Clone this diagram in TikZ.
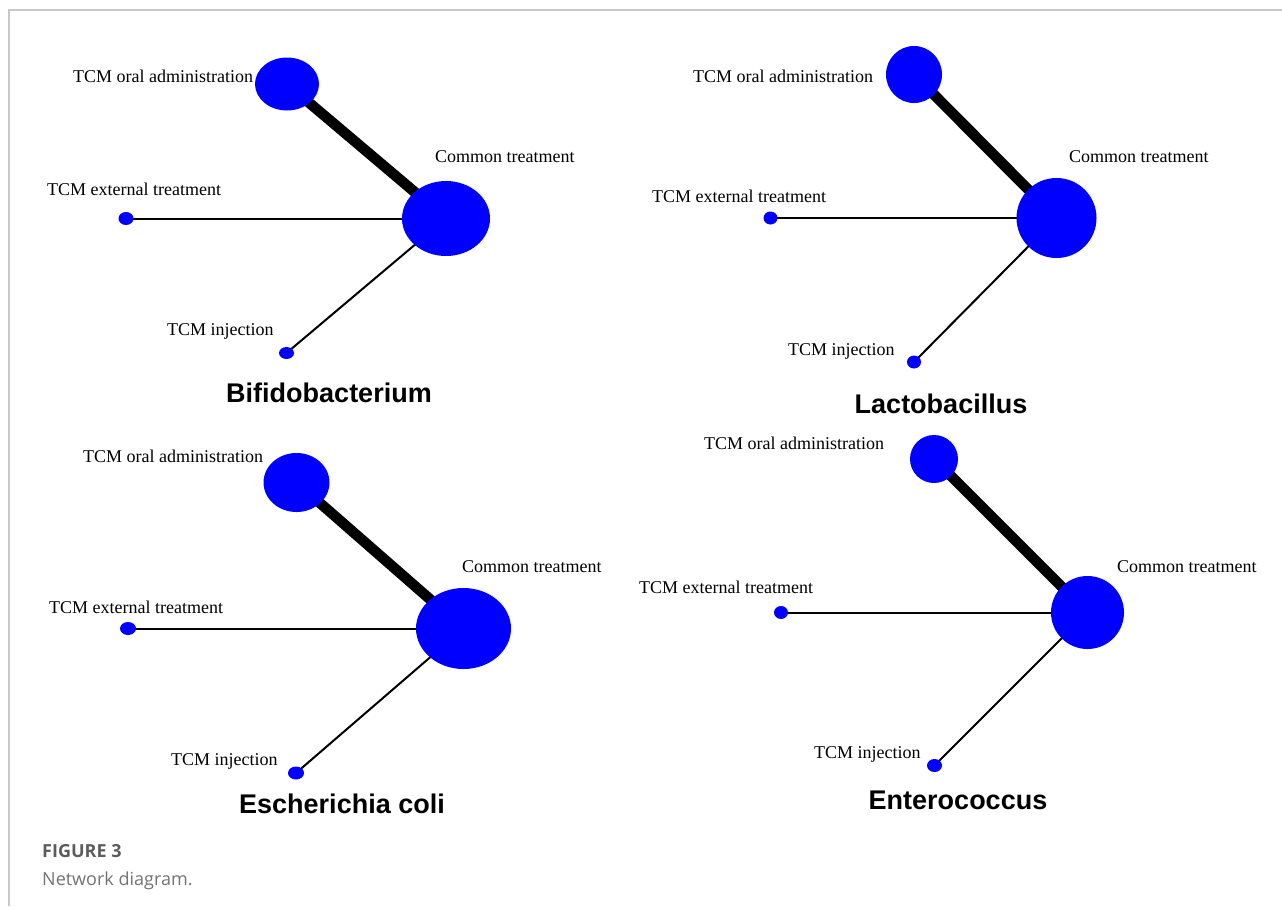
\documentclass[tikz,border=0pt]{standalone}
\usepackage{fontspec}
\setmainfont{Liberation Serif}
\newfontfamily\titlefont{Liberation Sans}
\newfontfamily\capfont{Open Sans}
\usetikzlibrary{shapes.geometric,backgrounds}
\definecolor{netblue}{HTML}{0000FF}
\definecolor{framegray}{HTML}{C8C8C8}
\definecolor{capgray}{HTML}{5C5C5C}
\definecolor{subgray}{HTML}{737373}

\begin{document}
\begin{tikzpicture}[
  x=1pt, y=-1pt,
  font=\fontsize{18}{20}\selectfont,
  trt/.style={ellipse, fill=netblue, inner sep=0pt},
  lab/.style={anchor=base west, inner sep=0pt},
  ttl/.style={anchor=base, inner sep=0pt,
              font=\titlefont\bfseries\fontsize{27}{30}\selectfont},
  wide/.style={line width=10.5pt},
  slim/.style={line width=2pt}
]
\useasboundingbox (0,0) rectangle (1282,906);
\draw[framegray, line width=1.5pt] (9,906) -- (9,10) -- (1282,10);

\node[trt, minimum width=64pt, minimum height=53pt] (oralA) at (287,84) {};
\node[trt, minimum width=88pt, minimum height=75pt] (comA) at (446,218.5) {};
\node[trt, minimum width=15pt, minimum height=13pt] (extA) at (126,218.5) {};
\node[trt, minimum width=15pt, minimum height=12pt] (injA) at (286.5,353) {};
\node[lab] (oralAlab) at (73,82) {TCM oral administration};
\node[lab] (comAlab) at (435,162) {Common treatment};
\node[lab] (extAlab) at (47,195) {TCM external treatment};
\node[lab] (injAlab) at (167,335) {TCM injection};
\node[ttl] (titleA) at (329,402) {Bifidobacterium};

\node[trt, minimum width=56pt, minimum height=57pt] (oralB) at (914,74.5) {};
\node[trt, minimum width=80pt, minimum height=80pt] (comB) at (1056.5,218) {};
\node[trt, minimum width=14pt, minimum height=13pt] (extB) at (770.5,218) {};
\node[trt, minimum width=14pt, minimum height=13pt] (injB) at (914,362) {};
\node[lab] (oralBlab) at (693,82) {TCM oral administration};
\node[lab] (comBlab) at (1069,162) {Common treatment};
\node[lab] (extBlab) at (652,202) {TCM external treatment};
\node[lab] (injBlab) at (788,355) {TCM injection};
\node[ttl] (titleB) at (941,413) {Lactobacillus};

\node[trt, minimum width=66pt, minimum height=59pt] (oralC) at (296.5,482.5) {};
\node[trt, minimum width=95pt, minimum height=81pt] (comC) at (463.5,628.5) {};
\node[trt, minimum width=16pt, minimum height=13pt] (extC) at (128,628.5) {};
\node[trt, minimum width=16pt, minimum height=13pt] (injC) at (296,773) {};
\node[lab] (oralClab) at (83,462) {TCM oral administration};
\node[lab] (comClab) at (462,572) {Common treatment};
\node[lab] (extClab) at (49,613) {TCM external treatment};
\node[lab] (injClab) at (171,765) {TCM injection};
\node[ttl] (titleC) at (342,813) {Escherichia coli};

\node[trt, minimum width=48pt, minimum height=48pt] (oralD) at (934,459) {};
\node[trt, minimum width=73pt, minimum height=73pt] (comD) at (1087.5,612.5) {};
\node[trt, minimum width=14pt, minimum height=13pt] (extD) at (781,612.5) {};
\node[trt, minimum width=15pt, minimum height=13pt] (injD) at (934.5,765.5) {};
\node[lab] (oralDlab) at (704,449) {TCM oral administration};
\node[lab] (comDlab) at (1117,572) {Common treatment};
\node[lab] (extDlab) at (639,593) {TCM external treatment};
\node[lab] (injDlab) at (814,758) {TCM injection};
\node[ttl] (titleD) at (958,809) {Enterococcus};

\begin{scope}[on background layer]
\foreach \p in {A,B,C,D} {
  \draw[wide] (oral\p.center) -- (com\p.center);
  \draw[slim] (ext\p.center) -- (com\p.center);
  \draw[slim] (inj\p.center) -- (com\p.center);
}
\end{scope}

\node[lab, font=\capfont\bfseries\fontsize{18}{20}\selectfont, text=capgray]
  (fig) at (42,857) {FIGURE 3};
\node[lab, font=\capfont\fontsize{18}{20}\selectfont, text=subgray]
  (cap) at (42,885) {Network diagram.};
\end{tikzpicture}
\end{document}
